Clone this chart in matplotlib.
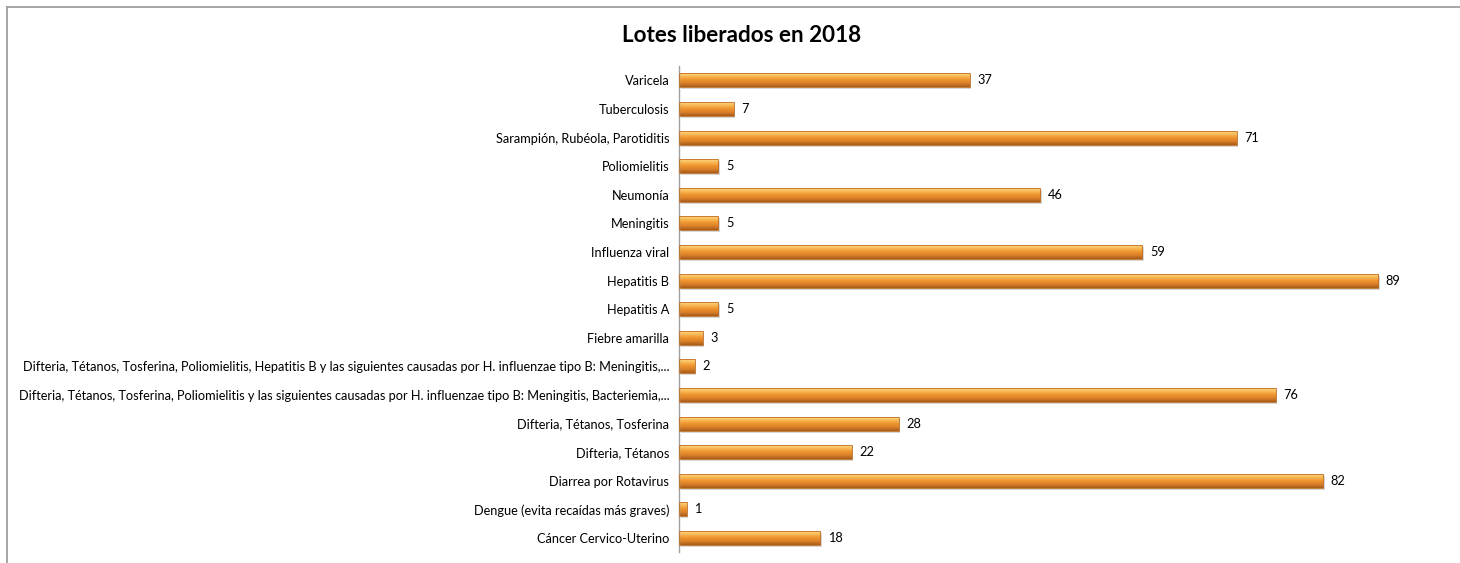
import matplotlib
matplotlib.use("Agg")
import matplotlib.pyplot as plt
import numpy as np
from matplotlib.colors import LinearSegmentedColormap
from matplotlib.lines import Line2D
import matplotlib.transforms as mtransforms

categories = [
    "Cáncer Cervico-Uterino",
    "Dengue (evita recaídas más graves)",
    "Diarrea por Rotavirus",
    "Difteria, Tétanos",
    "Difteria, Tétanos, Tosferina",
    "Difteria, Tétanos, Tosferina, Poliomielitis y las siguientes causadas por H. influenzae tipo B: Meningitis, Bacteriemia,...",
    "Difteria, Tétanos, Tosferina, Poliomielitis, Hepatitis B y las siguientes causadas por H. influenzae tipo B: Meningitis,...",
    "Fiebre amarilla",
    "Hepatitis A",
    "Hepatitis B",
    "Influenza viral",
    "Meningitis",
    "Neumonía",
    "Poliomielitis",
    "Sarampión, Rubéola, Parotiditis",
    "Tuberculosis",
    "Varicela",
]
values = [18, 1, 82, 22, 28, 76, 2, 3, 5, 89, 59, 5, 46, 5, 71, 7, 37]
title = "Lotes liberados en 2018"

FONT = ["Lato", "DejaVu Sans"]

W, H = 1460, 563
fig = plt.figure(figsize=(W / 100, H / 100), dpi=100)
fig.patch.set_facecolor("white")

# outer border (top and left)
fig.add_artist(Line2D([7 / W, 1], [1 - 7 / H, 1 - 7 / H], color="#A0A0A0", lw=1.3, transform=fig.transFigure))
fig.add_artist(Line2D([7 / W, 7 / W], [0, 1 - 7 / H], color="#A0A0A0", lw=1.3, transform=fig.transFigure))

ax_left = 679 / W
ax_top = 66 / H
ax_bottom = 552.3 / H
xmax = 95
px_per_unit = 7.854
ax_w = xmax * px_per_unit / W
ax = fig.add_axes([ax_left, 1 - ax_bottom, ax_w, ax_bottom - ax_top])

y = np.arange(len(categories))
bh = 0.49

# shadow
shadow_tr = ax.transData + mtransforms.ScaledTranslation(1.5 / 100, -2.0 / 100, fig.dpi_scale_trans)
ax.barh(y, values, height=bh, color="#C8C8C8", alpha=0.7, transform=shadow_tr, zorder=1)

bars = ax.barh(y, values, height=bh, color="none", edgecolor="#C07028", linewidth=0.6, zorder=3)

cmap = LinearSegmentedColormap.from_list(
    "bar",
    [(0.0, "#A85A18"), (0.25, "#D9802A"), (0.5, "#F0952E"), (0.78, "#FAC262"), (0.9, "#FCD07A"), (1.0, "#F6B050")],
)
grad = np.linspace(0, 1, 64).reshape(-1, 1)
for b in bars:
    x0, y0 = b.get_x(), b.get_y()
    w, h = b.get_width(), b.get_height()
    im = ax.imshow(grad, cmap=cmap, aspect="auto", origin="lower",
                   extent=[x0, x0 + w, y0, y0 + h], zorder=2, interpolation="bilinear")
    im.set_clip_path(b)

for yi, v in zip(y, values):
    ax.annotate(str(v), xy=(v, yi), xytext=(5.5, 0), textcoords="offset points",
                va="center", ha="left", fontsize=9.15, family=FONT, color="#000000")

ax.set_xlim(0, xmax)
ax.set_ylim(-0.5, len(categories) - 0.5)
ax.set_yticks(y)
ax.set_yticklabels(categories, fontsize=9.15, family=FONT)
ax.tick_params(axis="y", length=0, pad=7)
ax.set_xticks([])
for s in ["top", "right", "bottom"]:
    ax.spines[s].set_visible(False)
ax.spines["left"].set_color("#A0A0A0")
ax.spines["left"].set_linewidth(1.0)
ax.set_facecolor("none")

fig.text(742 / W, 1 - 35 / H, title, ha="center", va="center", fontsize=16.2,
         fontweight="bold", family=FONT)

fig.savefig("out.png", dpi=100, facecolor="white")
